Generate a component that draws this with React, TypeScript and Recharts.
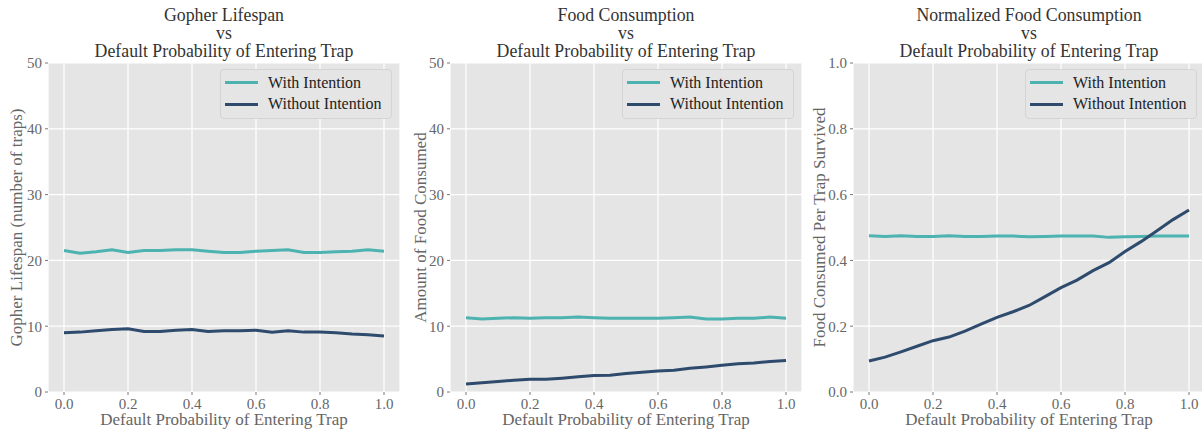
import React from 'react';
import { LineChart, Line, XAxis, YAxis, CartesianGrid, Legend } from 'recharts';

const probs = [0, 0.05, 0.1, 0.15, 0.2, 0.25, 0.3, 0.35, 0.4, 0.45, 0.5, 0.55, 0.6, 0.65, 0.7, 0.75, 0.8, 0.85, 0.9, 0.95, 1.0];

const lifespanWith = [21.5, 21.1, 21.3, 21.6, 21.2, 21.5, 21.5, 21.6, 21.6, 21.4, 21.2, 21.2, 21.4, 21.5, 21.6, 21.2, 21.2, 21.3, 21.4, 21.6, 21.4];
const lifespanWithout = [9.0, 9.1, 9.3, 9.5, 9.6, 9.2, 9.2, 9.4, 9.5, 9.2, 9.3, 9.3, 9.4, 9.1, 9.3, 9.1, 9.1, 9.0, 8.8, 8.7, 8.5];

const foodWith = [11.3, 11.1, 11.2, 11.3, 11.2, 11.3, 11.3, 11.4, 11.3, 11.2, 11.2, 11.2, 11.2, 11.3, 11.4, 11.1, 11.1, 11.2, 11.2, 11.4, 11.2];
const foodWithout = [1.2, 1.4, 1.6, 1.8, 1.95, 1.95, 2.1, 2.3, 2.5, 2.55, 2.8, 3.0, 3.2, 3.3, 3.6, 3.8, 4.05, 4.3, 4.4, 4.65, 4.8];

const normWith = [0.475, 0.473, 0.475, 0.473, 0.473, 0.475, 0.473, 0.473, 0.474, 0.474, 0.472, 0.473, 0.474, 0.474, 0.474, 0.470, 0.472, 0.473, 0.474, 0.474, 0.474];
const normWithout = [0.094, 0.106, 0.122, 0.139, 0.156, 0.167, 0.185, 0.206, 0.227, 0.244, 0.263, 0.290, 0.317, 0.340, 0.369, 0.393, 0.427, 0.457, 0.490, 0.524, 0.553];

const seriesNames = ['With Intention', 'Without Intention'];
const seriesColors = ['#4db3b0', '#2e4b6d'];

const xTicks = [0, 0.2, 0.4, 0.6, 0.8, 1.0];
const countTicks = [0, 10, 20, 30, 40, 50];
const normTicks = [0, 0.2, 0.4, 0.6, 0.8, 1.0];

const xLabel = 'Default Probability of Entering Trap';
const titles = [
  ['Gopher Lifespan', 'vs', 'Default Probability of Entering Trap'],
  ['Food Consumption', 'vs', 'Default Probability of Entering Trap'],
  ['Normalized Food Consumption', 'vs', 'Default Probability of Entering Trap'],
];
const yLabels = ['Gopher Lifespan (number of traps)', 'Amount of Food Consumed', 'Food Consumed Per Trap Survived'];

const FONT = '"Liberation Serif", "DejaVu Serif", serif';
const CHART_W = 410;
const CHART_H = 432;
const YW = 48;
const MT = 63;
const MR = 10;
const XH = 40;

const buildRows = (a: number[], b: number[]) =>
  probs.map((p, i) => ({ p, a: a[i], b: b[i] }));

const LegendBox = () => (
  <div
    style={{
      boxSizing: 'border-box',
      width: 172,
      height: 50,
      background: '#e5e5e5',
      border: '1px solid #d4d4d4',
      borderRadius: 4,
      fontFamily: FONT,
      fontSize: 16,
      color: '#222',
      position: 'relative',
    }}
  >
    {seriesNames.map((n, i) => (
      <div key={n} style={{ position: 'absolute', left: 0, top: 12.7 + i * 21.6 - 10, height: 20, width: 172 }}>
        <div style={{ position: 'absolute', left: 4, top: 8.5, width: 33, height: 3, background: seriesColors[i] }} />
        <div style={{ position: 'absolute', left: 47, top: 0, lineHeight: '20px', whiteSpace: 'nowrap' }}>{n}</div>
      </div>
    ))}
  </div>
);

type PanelProps = {
  left: number;
  rows: { p: number; a: number; b: number }[];
  domain: [number, number];
  ticks: number[];
  fmt: (v: number) => string;
  title: string[];
  ylabel: string;
  ylabelX: number;
};

const Panel = ({ left, rows, domain, ticks, fmt, title, ylabel, ylabelX }: PanelProps) => {
  const plotW = CHART_W - YW - MR;
  return (
    <div style={{ position: 'absolute', left, top: 0, width: CHART_W, height: CHART_H }}>
      <div
        style={{
          position: 'absolute',
          left: YW,
          width: plotW,
          top: 6,
          textAlign: 'center',
          fontFamily: FONT,
          fontSize: 17.8,
          lineHeight: '18px',
          color: '#333',
          whiteSpace: 'nowrap',
        }}
      >
        {title.map((t) => (
          <div key={t}>{t}</div>
        ))}
      </div>
      <LineChart width={CHART_W} height={CHART_H} data={rows} margin={{ top: MT, right: MR, bottom: 0, left: 0 }}>
        <CartesianGrid fill="#e5e5e5" stroke="#ffffff" strokeWidth={1.2} />
        <XAxis
          dataKey="p"
          type="number"
          domain={[-0.05, 1.05]}
          ticks={xTicks}
          allowDataOverflow
          height={XH}
          axisLine={false}
          tickLine={{ stroke: '#777' }}
          tickSize={3}
          tickMargin={3}
          tickFormatter={(v: number) => v.toFixed(1)}
          tick={{ fill: '#666', fontFamily: FONT, fontSize: 15 }}
          label={(props: any) => {
            const vb = props.viewBox;
            return (
              <text
                x={vb.x + vb.width / 2}
                y={vb.y + 33}
                textAnchor="middle"
                fill="#666"
                fontFamily={FONT}
                fontSize={17}
              >
                {xLabel}
              </text>
            );
          }}
        />
        <YAxis
          type="number"
          domain={domain}
          ticks={ticks}
          width={YW}
          axisLine={false}
          tickLine={{ stroke: '#777' }}
          tickSize={3}
          tickMargin={3}
          tickFormatter={fmt}
          tick={{ fill: '#666', fontFamily: FONT, fontSize: 15 }}
          label={(props: any) => {
            const vb = props.viewBox;
            const cy = vb.y + vb.height / 2;
            return (
              <text
                x={ylabelX}
                y={cy}
                transform={`rotate(-90 ${ylabelX} ${cy})`}
                textAnchor="middle"
                dominantBaseline="central"
                fill="#666"
                fontFamily={FONT}
                fontSize={17}
              >
                {ylabel}
              </text>
            );
          }}
        />
        <Legend
          layout="vertical"
          align="center"
          verticalAlign="middle"
          wrapperStyle={{ left: 220, top: 69, width: 172, height: 50 }}
          content={() => <LegendBox />}
        />
        <Line
          type="linear"
          dataKey="a"
          name={seriesNames[0]}
          stroke={seriesColors[0]}
          strokeWidth={3}
          dot={false}
          isAnimationActive={false}
        />
        <Line
          type="linear"
          dataKey="b"
          name={seriesNames[1]}
          stroke={seriesColors[1]}
          strokeWidth={3}
          dot={false}
          isAnimationActive={false}
        />
      </LineChart>
    </div>
  );
};

export default function App() {
  return (
    <div
      style={{
        position: 'absolute',
        left: 0,
        top: 0,
        width: 1202,
        height: 432,
        overflow: 'hidden',
        background: '#ffffff',
      }}
    >
      <Panel
        left={0}
        rows={buildRows(lifespanWith, lifespanWithout)}
        domain={[0, 50]}
        ticks={countTicks}
        fmt={(v) => String(v)}
        title={titles[0]}
        ylabel={yLabels[0]}
        ylabelX={16.5}
      />
      <Panel
        left={402}
        rows={buildRows(foodWith, foodWithout)}
        domain={[0, 50]}
        ticks={countTicks}
        fmt={(v) => String(v)}
        title={titles[1]}
        ylabel={yLabels[1]}
        ylabelX={18}
      />
      <Panel
        left={805}
        rows={buildRows(normWith, normWithout)}
        domain={[0, 1]}
        ticks={normTicks}
        fmt={(v) => v.toFixed(1)}
        title={titles[2]}
        ylabel={yLabels[2]}
        ylabelX={14}
      />
    </div>
  );
}
